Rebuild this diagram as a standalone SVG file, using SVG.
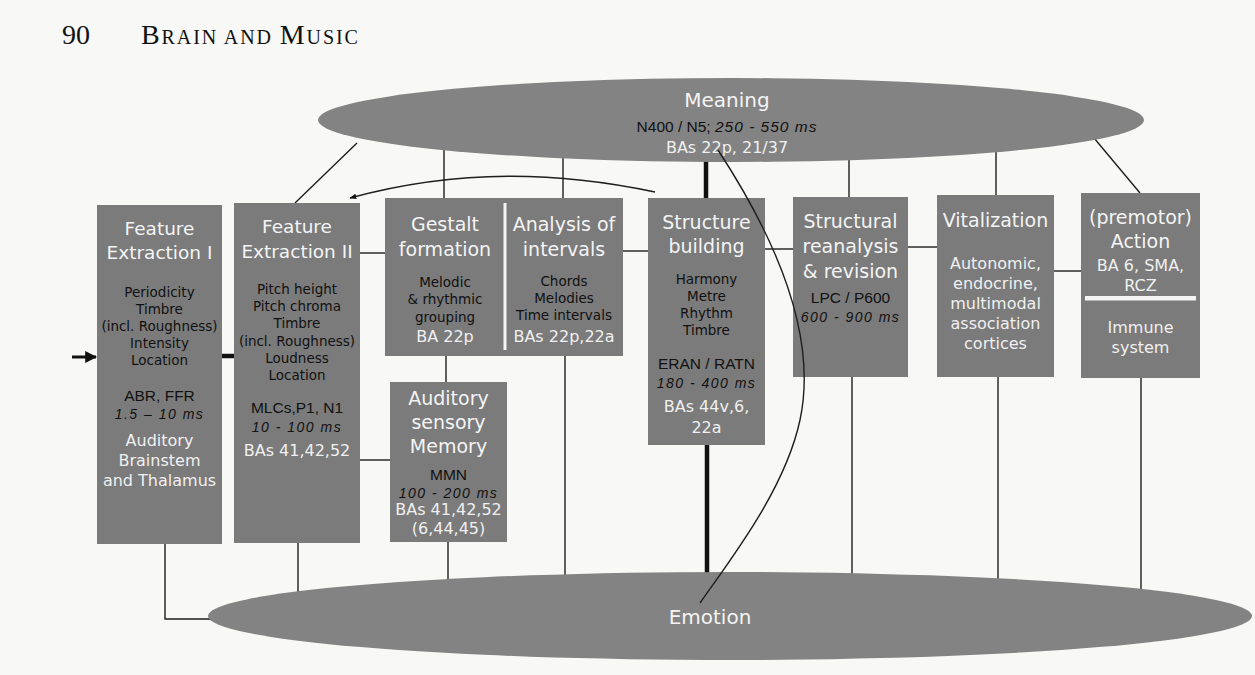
<svg xmlns="http://www.w3.org/2000/svg" width="1255" height="675" viewBox="0 0 1255 675">
<style>
.bg{fill:#f8f8f6}
.box{fill:#7b7b7b}
.ell{fill:#838383}
.ln{stroke:#1e1e1e;stroke-width:1.4;fill:none}
.thick{stroke:#111;stroke-width:4.5;fill:none}
.t{font-family:"DejaVu Sans",Verdana,sans-serif;text-anchor:middle}
.ti{fill:#f4f4f4;font-size:19px}
.bd{fill:#111;font-size:13.5px}
.wh{fill:#f0f0f0;font-size:16px}
.ar{font-family:"Liberation Sans",Arial,sans-serif;text-anchor:middle;fill:#111;font-size:15.5px}
.it{font-family:"Liberation Sans",Arial,sans-serif;text-anchor:middle;fill:#111;font-size:14px;font-style:italic;letter-spacing:1.5px}
.hd{font-family:"Liberation Serif","Times New Roman",serif;fill:#111}
</style>
<defs>
<marker id="ah" viewBox="0 0 10 10" refX="9" refY="5" markerWidth="7" markerHeight="7" orient="auto" markerUnits="userSpaceOnUse">
<path d="M0,1 L10,5 L0,9 Z" fill="#111"/>
</marker>
<marker id="ah2" viewBox="0 0 10 10" refX="9" refY="5" markerWidth="4" markerHeight="4" orient="auto">
<path d="M0,0 L10,5 L0,10 Z" fill="#111"/>
</marker>
</defs>
<rect class="bg" x="0" y="0" width="1255" height="675"/>
<g id="header">
<text class="hd" x="62" y="44" font-size="28">90</text>
<text class="hd" x="141" y="44" font-size="20" letter-spacing="1.9"><tspan font-size="28">B</tspan>RAIN AND <tspan font-size="28">M</tspan>USIC</text>
</g>
<g id="connectors">
<line class="ln" x1="357" y1="143" x2="295" y2="203"/>
<line class="ln" x1="444" y1="140" x2="444" y2="198"/>
<line class="ln" x1="563" y1="140" x2="563" y2="198"/>
<line class="thick" x1="706" y1="150" x2="706" y2="198"/>
<line class="ln" x1="849" y1="150" x2="849" y2="197"/>
<line class="ln" x1="996" y1="150" x2="996" y2="195"/>
<line class="ln" x1="1094" y1="138" x2="1140" y2="193"/>
<line x1="72" y1="357" x2="96" y2="357" stroke="#111" stroke-width="3" marker-end="url(#ah2)"/>
<line class="thick" x1="222" y1="356" x2="234" y2="356"/>
<line class="ln" x1="360" y1="253" x2="385" y2="253"/>
<line class="ln" x1="360" y1="460" x2="390" y2="460"/>
<line class="ln" x1="446" y1="356" x2="446" y2="382"/>
<line class="ln" x1="623" y1="251" x2="648" y2="251"/>
<line class="ln" x1="765" y1="249" x2="793" y2="249"/>
<line class="ln" x1="908" y1="247" x2="937" y2="247"/>
<line class="ln" x1="1054" y1="271" x2="1081" y2="271"/>
<polyline class="ln" points="165,544 165,619 215,619"/>
<line class="ln" x1="298" y1="543" x2="298" y2="600"/>
<line class="ln" x1="448" y1="542" x2="448" y2="590"/>
<line class="ln" x1="565" y1="356" x2="565" y2="585"/>
<line class="thick" x1="707" y1="445" x2="707" y2="580"/>
<line class="ln" x1="852" y1="377" x2="852" y2="580"/>
<line class="ln" x1="998" y1="377" x2="998" y2="585"/>
<line class="ln" x1="1141" y1="378" x2="1141" y2="595"/>
<path class="ln" d="M655,192 C560,172 460,168 350,198" marker-end="url(#ah)"/>
</g>
<g id="meaning">
<ellipse class="ell" cx="731" cy="120" rx="413" ry="42"/>
<text class="t ti" x="727" y="107" style="font-size:20px">Meaning</text>
<text class="ar" x="727" y="132" style="font-size:15.5px">N400 / N5; <tspan font-style="italic" letter-spacing="1">250 - 550 ms</tspan></text>
<text class="t wh" x="727" y="153">BAs 22p, 21/37</text>
</g>
<g id="emotion">
<ellipse class="ell" cx="730" cy="616" rx="522" ry="44"/>
<text class="t ti" x="710" y="624" style="font-size:20px">Emotion</text>
</g>
<g id="fe1">
<rect class="box" x="97" y="205" width="125" height="339"/>
<text class="t ti" x="159.5" y="235" style="font-size:18.5px">Feature</text>
<text class="t ti" x="159.5" y="259" style="font-size:18.5px">Extraction I</text>
<text class="t bd" x="159.5" y="297">Periodicity</text>
<text class="t bd" x="159.5" y="314">Timbre</text>
<text class="t bd" x="159.5" y="331">(incl. Roughness)</text>
<text class="t bd" x="159.5" y="348">Intensity</text>
<text class="t bd" x="159.5" y="365">Location</text>
<text class="ar" x="159.5" y="401">ABR, FFR</text>
<text class="it" x="159.5" y="419">1.5 – 10 ms</text>
<text class="t wh" x="159.5" y="446">Auditory</text>
<text class="t wh" x="159.5" y="466">Brainstem</text>
<text class="t wh" x="159.5" y="486">and Thalamus</text>
</g>
<g id="fe2">
<rect class="box" x="234" y="203" width="126" height="340"/>
<text class="t ti" x="297" y="233" style="font-size:18.5px">Feature</text>
<text class="t ti" x="297" y="258" style="font-size:18.5px">Extraction II</text>
<text class="t bd" x="297" y="294">Pitch height</text>
<text class="t bd" x="297" y="311">Pitch chroma</text>
<text class="t bd" x="297" y="328">Timbre</text>
<text class="t bd" x="297" y="346">(incl. Roughness)</text>
<text class="t bd" x="297" y="363">Loudness</text>
<text class="t bd" x="297" y="380">Location</text>
<text class="ar" x="297" y="413">MLCs,P1, N1</text>
<text class="it" x="297" y="432">10 - 100 ms</text>
<text class="t wh" x="297" y="456">BAs 41,42,52</text>
</g>
<g id="gestalt">
<rect class="box" x="385" y="198" width="238" height="158"/>
<rect x="503.5" y="203" width="3" height="147" fill="#f4f4f4"/>
<text class="t ti" x="445" y="231">Gestalt</text>
<text class="t ti" x="445" y="256">formation</text>
<text class="t bd" x="445" y="287">Melodic</text>
<text class="t bd" x="445" y="304">&amp; rhythmic</text>
<text class="t bd" x="445" y="322">grouping</text>
<text class="t wh" x="445" y="342">BA 22p</text>
</g>
<g id="intervals">
<text class="t ti" x="564" y="231">Analysis of</text>
<text class="t ti" x="564" y="256">intervals</text>
<text class="t bd" x="564" y="286">Chords</text>
<text class="t bd" x="564" y="303">Melodies</text>
<text class="t bd" x="564" y="320">Time intervals</text>
<text class="t wh" x="564" y="342">BAs 22p,22a</text>
</g>
<g id="memory">
<rect class="box" x="390" y="382" width="117" height="160"/>
<text class="t ti" x="448.5" y="405">Auditory</text>
<text class="t ti" x="448.5" y="429">sensory</text>
<text class="t ti" x="448.5" y="453">Memory</text>
<text class="ar" x="448.5" y="480">MMN</text>
<text class="it" x="448.5" y="498">100 - 200 ms</text>
<text class="t wh" x="448.5" y="515">BAs 41,42,52</text>
<text class="t wh" x="448.5" y="534">(6,44,45)</text>
</g>
<g id="structure">
<rect class="box" x="648" y="198" width="117" height="247"/>
<text class="t ti" x="706.5" y="229">Structure</text>
<text class="t ti" x="706.5" y="253">building</text>
<text class="t bd" x="706.5" y="284">Harmony</text>
<text class="t bd" x="706.5" y="301">Metre</text>
<text class="t bd" x="706.5" y="318">Rhythm</text>
<text class="t bd" x="706.5" y="335">Timbre</text>
<text class="ar" x="706.5" y="369">ERAN / RATN</text>
<text class="it" x="706.5" y="388">180 - 400 ms</text>
<text class="t wh" x="706.5" y="412">BAs 44v,6,</text>
<text class="t wh" x="706.5" y="433">22a</text>
</g>
<g id="reanalysis">
<rect class="box" x="793" y="197" width="115" height="180"/>
<text class="t ti" x="850.5" y="228">Structural</text>
<text class="t ti" x="850.5" y="253">reanalysis</text>
<text class="t ti" x="850.5" y="278">&amp; revision</text>
<text class="ar" x="850.5" y="303">LPC / P600</text>
<text class="it" x="850.5" y="322">600 - 900 ms</text>
</g>
<g id="vitalization">
<rect class="box" x="937" y="195" width="117" height="182"/>
<text class="t ti" x="995.5" y="227">Vitalization</text>
<text class="t wh" x="995.5" y="269">Autonomic,</text>
<text class="t wh" x="995.5" y="289">endocrine,</text>
<text class="t wh" x="995.5" y="309">multimodal</text>
<text class="t wh" x="995.5" y="329">association</text>
<text class="t wh" x="995.5" y="349">cortices</text>
</g>
<g id="action">
<rect class="box" x="1081" y="193" width="119" height="185"/>
<text class="t ti" x="1140.5" y="224">(premotor)</text>
<text class="t ti" x="1140.5" y="248">Action</text>
<text class="t wh" x="1140.5" y="271">BA 6, SMA,</text>
<text class="t wh" x="1140.5" y="291">RCZ</text>
<rect x="1085" y="296" width="111" height="4.5" fill="#f4f4f4"/>
<text class="t wh" x="1140.5" y="333">Immune</text>
<text class="t wh" x="1140.5" y="353">system</text>
</g>
<g id="curve">
<path class="ln" d="M718,150 C790,260 815,350 800,420 C785,490 730,560 700,603"/>
</g>
</svg>
